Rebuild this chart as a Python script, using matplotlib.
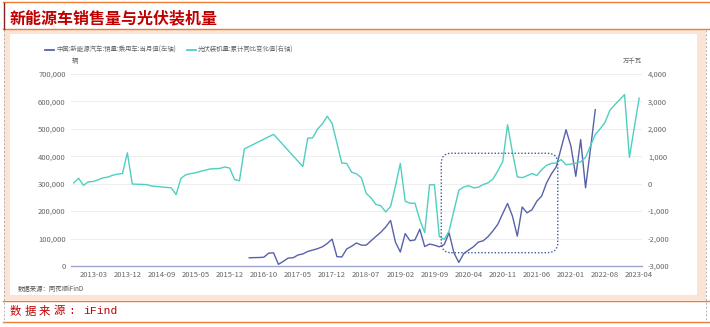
import numpy as np
import pandas as pd
import matplotlib
matplotlib.use('Agg')
import matplotlib.pyplot as plt
from matplotlib.patches import Rectangle, FancyBboxPatch
from matplotlib.lines import Line2D
from matplotlib.ticker import FuncFormatter

plt.rcParams['font.family'] = ['Noto Sans CJK SC', 'DejaVu Sans']

# ---------------- data ----------------
missing_months = ['2013-01', '2013-02', '2013-06', '2013-09', '2014-01', '2014-02',
                  '2015-01', '2016-01', '2016-02', '2016-04', '2023-01']
all_months = pd.date_range('2012-09-01', '2023-04-01', freq='MS').strftime('%Y-%m')
categories = [m for m in all_months if m not in missing_months]

# 中国:新能源汽车:销量:乘用车:当月值 (辆, left axis)
nev_sales = [None] * 36 + [
    30000, 30500, 31000, 32000, 47000, 48000, 6000, 17000, 29000, 30000,
    40000, 44000, 53000, 58000, 63000, 70000, 82000, 98000, 34000, 33000,
    62000, 72000, 84000, 76000, 76000, 92000, 108000, 123000, 142000, 166000,
    87000, 51000, 118000, 92000, 95000, 134000, 71000, 80000, 76000, 70000,
    78000, 121000, 48000, 13000, 45000, 58000, 70000, 87000, 92000, 107000,
    128000, 152000, 191000, 228000, 182000, 109000, 215000, 194000, 205000, 236000,
    255000, 303000, 336000, 362000, 430000, 497000, 437000, 327000, 461000, 285000,
    425000, 570000] + [None] * 9

# 光伏装机量:累计同比变化值 (万千瓦, right axis)
pv_change = [
    30, 200, -60, 70, 80, 140, 215, 240, 310, 350,
    370, 1130, -10, -20, -25, -35, -85, -100, -120, -135,
    -150, -400, 200, 325, 370, 400, 450, 495, 540, 545,
    560, 610, 570, 150, 110, 1270,
    None, None, None, None, None, 1800, None, None, None, None, None, 625,
    1660, 1670, 1990, 2180, 2460, 2200, 1480, 750, 740, 420,
    360, 220, -350, -520, -760, -800, -1030, -830, -90, 740,
    -640, -710, -710, -1320, -1780, -40, -40, -1930, -2030, -1726,
    -980, -240, -120, -70, -150, -130, -30, 30, 170, 470,
    800, 2150, 1150, 250, 220, 290, 370, 300, 510, 670,
    740, 760, 880, 690, 720, 750, 800, 960, 1380, 1800,
    2000, 2240, 2680, 2880, 3060, 3250, 960, 2050, 3120]

left_ticks = [0, 100000, 200000, 300000, 400000, 500000, 600000, 700000]
right_ticks = [-3000, -2000, -1000, 0, 1000, 2000, 3000, 4000]
label_start, label_step = 4, 7

series_names = ['中国:新能源汽车:销量:乘用车:当月值(左轴)', '光伏装机量:累计同比变化值(右轴)']
title = '新能源车销售量与光伏装机量'

# ---------------- style ----------------
BLUE = '#5862a8'
TEAL = '#4fcfc0'
ORANGE = '#ed7d31'
RED = '#c00000'
PEACH = '#fbe4d5'
GREY = '#666666'

W, H = 710, 327
fig = plt.figure(figsize=(W / 100, H / 100), dpi=100)
fig.patch.set_facecolor('white')


def fx(x):
    return x / W


def fy(y):
    return 1 - y / H


def rect(x0, y0, x1, y1, **kw):
    fig.patches.append(Rectangle((fx(x0), fy(y1)), fx(x1) - fx(x0), fy(y0) - fy(y1),
                                 transform=fig.transFigure, figure=fig, zorder=-10, **kw))


def line(xs, ys, **kw):
    fig.add_artist(Line2D([fx(v) for v in xs], [fy(v) for v in ys],
                          transform=fig.transFigure, **kw))


# frame decorations
rect(3.5, 30, 706, 300, facecolor=PEACH, edgecolor='none', lw=0)
rect(10, 33.5, 697, 295, facecolor='white', edgecolor='none', lw=0)
for yy in (1.5, 29.3, 300.7, 322.3):
    line([3, 710], [yy, yy], color=ORANGE, lw=1.0)
line([4, 4], [3, 28.5], color='#8b2020', lw=1.0)
line([3.5, 3.5], [30, 323], color='#b0b0b0', lw=0.7, ls=(0, (2, 2)))
line([706.3, 706.3], [30, 323], color='#b0b0b0', lw=0.7, ls=(0, (2, 2)))

fig.text(fx(10), fy(18.5), title, color=RED, fontsize=11.5, fontweight='bold',
         ha='left', va='center')

# footer
for ch, xx in zip('数据来源', [10, 24.5, 39, 53.5]):
    fig.text(fx(xx), fy(311), ch, color=RED, fontsize=8.2, ha='left', va='center')
fig.text(fx(68), fy(311), ':', color=RED, fontsize=8.2, family='Liberation Mono',
         ha='left', va='center')
fig.text(fx(83), fy(311.5), 'iFind', color=RED, fontsize=8.2, family='Liberation Mono',
         ha='left', va='center')

# source text inside panel
fig.text(fx(18), fy(289), '数据来源：同花顺iFinD', color='#555555', fontsize=4.6,
         ha='left', va='center')

# legend
line([45, 54], [50, 50], color=BLUE, lw=1.3)
fig.text(fx(56), fy(50), series_names[0], color=GREY, fontsize=4.6, ha='left', va='center')
line([187, 196], [50, 50], color=TEAL, lw=1.3)
fig.text(fx(198), fy(50), series_names[1], color=GREY, fontsize=4.6, ha='left', va='center')

# units
fig.text(fx(74.5), fy(61.5), '辆', color=GREY, fontsize=4.6, ha='center', va='center')
fig.text(fx(642), fy(61), '万千瓦', color=GREY, fontsize=4.6, ha='right', va='center')

# ---------------- axes ----------------
ax = fig.add_axes([fx(71.3), fy(266), (641.6 - 71.3) / W, 192 / H])
ax.set_facecolor('none')
ax2 = ax.twinx()

x = np.arange(len(categories))
nev = np.array([np.nan if v is None else v for v in nev_sales], dtype=float)
pv = np.array([np.nan if v is None else v for v in pv_change], dtype=float)

mn = ~np.isnan(nev)
ax.plot(x[mn], nev[mn], color=BLUE, lw=1.0, zorder=3)
mp = ~np.isnan(pv)
ax2.plot(x[mp], pv[mp], color=TEAL, lw=1.0, zorder=3)

# dotted rounded highlight box
box_x0, box_x1 = 75.4, 99.3
box_y0, box_y1 = 48500, 411000
r_px = 10.0
px_per_x = (641.6 - 71.3) / len(categories)
px_per_y = 192 / 700000
r_x = r_px / px_per_x
aspect = (r_px / px_per_y) / r_x
box = FancyBboxPatch((box_x0, box_y0), box_x1 - box_x0, box_y1 - box_y0,
                     boxstyle=f'round,pad=0,rounding_size={r_x}', mutation_aspect=aspect,
                     transform=ax.transData, fill=False, edgecolor='#3f5d9c',
                     lw=1.0, ls=(0, (1, 1.4)), zorder=5)
ax2.add_artist(box)

ax.set_xlim(-0.5, len(categories) - 0.5)
ax.set_ylim(0, 700000)
ax2.set_ylim(-3000, 4000)

ax.set_yticks(left_ticks)
ax.yaxis.set_major_formatter(FuncFormatter(lambda v, p: f'{int(v):,}'))
ax2.set_yticks(right_ticks)
ax2.yaxis.set_major_formatter(FuncFormatter(lambda v, p: f'{int(v):,}'))

ticks_idx = list(range(label_start, len(categories), label_step))
ax.set_xticks(ticks_idx)
ax.set_xticklabels([categories[i] for i in ticks_idx])

ax.grid(axis='y', color='#eeeeee', lw=0.8)
ax.set_axisbelow(True)
for sp in ['top', 'left', 'right']:
    ax.spines[sp].set_visible(False)
for sp in ax2.spines.values():
    sp.set_visible(False)
ax.spines['bottom'].set_color('#9ea6cc')
ax.spines['bottom'].set_linewidth(1.0)

ax.tick_params(axis='x', length=0, labelsize=5.5, labelcolor=GREY, pad=3.5)
ax.tick_params(axis='y', length=0, labelsize=5.5, labelcolor=GREY, pad=4)
ax2.tick_params(axis='y', length=0, labelsize=5.5, labelcolor=GREY, pad=4.6)

fig.savefig('out.png', dpi=100)
